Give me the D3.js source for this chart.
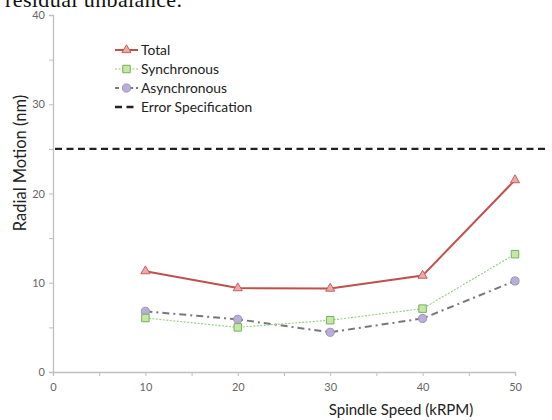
<!DOCTYPE html>
<html><head><meta charset="utf-8">
<script src="https://cdn.jsdelivr.net/npm/d3@7/dist/d3.min.js"></script>
<style>body{margin:0;background:#fff}svg{display:block}</style>
</head><body>
<svg id="c" width="552" height="420"></svg>
<script>
const speeds = [10, 20, 30, 40, 50];
const total = [11.3, 9.4, 9.35, 10.8, 21.5];
const synchronous = [6.05, 5.0, 5.8, 7.1, 13.2];
const asynchronous = [6.8, 5.9, 4.45, 6.0, 10.2];
const errorSpec = 25;
const xTicks = [0, 10, 20, 30, 40, 50];
const yTicks = [0, 10, 20, 30, 40];
const legendLabels = ["Total", "Synchronous", "Asynchronous", "Error Specification"];

const svg = d3.select("#c");
const x = d3.scaleLinear().domain([0, 50]).range([53, 515]);
const y = d3.scaleLinear().domain([0, 40]).range([372, 15]);
const font = "Lato, 'Open Sans', sans-serif";

// top cropped caption
svg.append("text").attr("x", 5).attr("y", 7).attr("font-family", "'Liberation Serif', serif")
  .attr("font-size", 22).attr("fill", "#111").attr("textLength", 177).text("residual unbalance.");

// axes
const yAxis = d3.axisLeft(y).tickValues(d3.range(0, 41, 5)).tickSize(4)
  .tickFormat(d => yTicks.includes(d) ? d : "");
const gy = svg.append("g").attr("transform", `translate(${x(0)},0)`).call(yAxis);
const xAxis = d3.axisBottom(x).tickValues(d3.range(0, 51, 5)).tickSize(4)
  .tickFormat(d => xTicks.includes(d) ? d : "");
const gx = svg.append("g").attr("transform", `translate(0,${y(0)})`).call(xAxis);
[gx, gy].forEach(g => {
  g.select(".domain").attr("stroke", "#bfbfbf").attr("stroke-width", 1.3);
  g.selectAll(".tick line").attr("stroke", "#bfbfbf");
  g.selectAll(".tick text").attr("fill", "#666").attr("font-family", font).attr("font-size", 11);
});
gy.selectAll(".tick text").attr("x", -8);
gx.selectAll(".tick text").attr("y", 11);

// axis titles
svg.append("text").attr("transform", `translate(26,163) rotate(-90)`).attr("text-anchor", "middle")
  .attr("font-family", font).attr("font-size", 16.5).attr("fill", "#222").text("Radial Motion (nm)");
svg.append("text").attr("x", 401).attr("y", 415).attr("text-anchor", "middle")
  .attr("font-family", font).attr("font-size", 15).attr("fill", "#222").text("Spindle Speed (kRPM)");

// error spec
svg.append("line").attr("x1", 55).attr("x2", 545).attr("y1", y(errorSpec)).attr("y2", y(errorSpec))
  .attr("stroke", "#222").attr("stroke-width", 2.3).attr("stroke-dasharray", "7,4.5");

const line = d3.line().x(d => x(d[0])).y(d => y(d[1]));
const series = [
  {vals: total, stroke: "#c0504d", w: 2, dash: null, sym: d3.symbolTriangle, size: 36, fill: "#eba9a7", ms: "#c8605d"},
  {vals: synchronous, stroke: "#8fce7c", w: 1.1, dash: "2,1.5", sym: d3.symbolSquare, size: 56, fill: "#c8e6a8", ms: "#6fb45a"},
  {vals: asynchronous, stroke: "#777", w: 2, dash: "7,4,2,4", sym: d3.symbolCircle, size: 52, fill: "#b9aed6", ms: "#9d90c5"}
];
series.slice().reverse().forEach(s => {
  const pts = speeds.map((v, i) => [v, s.vals[i]]);
  svg.append("path").attr("d", line(pts)).attr("fill", "none").attr("stroke", s.stroke)
    .attr("stroke-width", s.w).attr("stroke-dasharray", s.dash);
  svg.selectAll(null).data(pts).enter().append("path")
    .attr("d", d3.symbol().type(s.sym).size(s.size))
    .attr("transform", d => `translate(${x(d[0])},${y(d[1])})`)
    .attr("fill", s.fill).attr("stroke", s.ms).attr("stroke-width", 1);
});

// legend
const lg = svg.append("g");
legendLabels.forEach((lab, i) => {
  const yy = 50 + i * 19;
  const g = lg.append("g");
  if (i < 3) {
    const s = series[i];
    g.append("line").attr("x1", 115).attr("x2", 138).attr("y1", yy).attr("y2", yy)
      .attr("stroke", s.stroke).attr("stroke-width", s.w).attr("stroke-dasharray", i === 2 ? "4,3" : s.dash);
    g.append("path").attr("d", d3.symbol().type(s.sym).size(s.size))
      .attr("transform", `translate(126.5,${yy})`).attr("fill", s.fill).attr("stroke", s.ms);
  } else {
    g.append("line").attr("x1", 115).attr("x2", 138).attr("y1", yy).attr("y2", yy)
      .attr("stroke", "#222").attr("stroke-width", 2.3).attr("stroke-dasharray", "7,4.5");
  }
  g.append("text").attr("x", 141).attr("y", yy + 4.5).attr("font-family", font).attr("font-size", 13.8)
    .attr("fill", "#222").text(lab);
});
</script>
</body></html>
